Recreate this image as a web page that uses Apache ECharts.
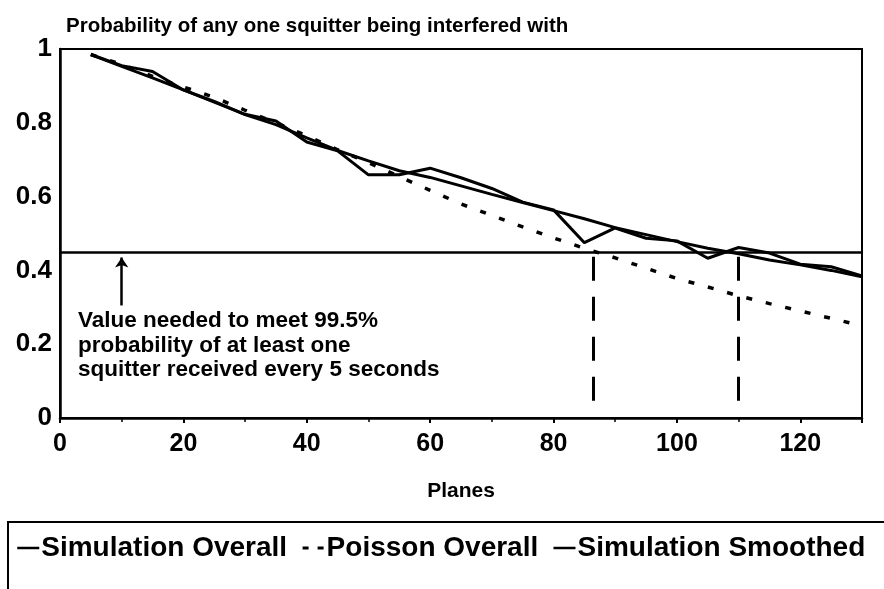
<!DOCTYPE html>
<html>
<head>
<meta charset="utf-8">
<title>Squitter interference probability</title>
<script src="https://cdn.jsdelivr.net/npm/echarts@6/dist/echarts.min.js"></script>
<style>
    html, body { margin: 0; padding: 0; background: #fff; }
    #chart { width: 884px; height: 589px; }
</style>
</head>
<body>
<div id="chart"></div>
<script>
// values
const planes = [5, 10, 15, 20, 25, 30, 35, 40, 45, 50, 55, 60, 65, 70, 75, 80, 85, 90, 95, 100, 105, 110, 115, 120, 125, 130];
const simOverall = [0.985, 0.955, 0.939, 0.889, 0.856, 0.823, 0.805, 0.748, 0.724, 0.659, 0.659, 0.677, 0.651, 0.622, 0.585, 0.564, 0.475, 0.515, 0.487, 0.48, 0.433, 0.462, 0.447, 0.417, 0.41, 0.385];
const poissonOverall = [0.985, 0.958, 0.926, 0.897, 0.869, 0.834, 0.8, 0.765, 0.727, 0.692, 0.654, 0.617, 0.58, 0.549, 0.518, 0.488, 0.46, 0.434, 0.406, 0.378, 0.355, 0.331, 0.31, 0.29, 0.27, 0.25];
const simSmoothed = [0.985, 0.953, 0.922, 0.889, 0.858, 0.822, 0.795, 0.759, 0.725, 0.697, 0.67, 0.652, 0.629, 0.606, 0.584, 0.562, 0.54, 0.516, 0.497, 0.478, 0.46, 0.445, 0.428, 0.415, 0.4, 0.383];
const threshold = 0.447;       // value needed for 99.5%
const crossPlanes = [86.5, 110]; // dashed drop lines
const arrowAt = [10, 0.305, 0.435];
const seriesNames = ['Simulation Overall', 'Poisson Overall', 'Simulation Smoothed'];

const font = 'Liberation Sans';
const chart = echarts.init(document.getElementById('chart'));

function pairs(ys) {
    return planes.map((p, i) => [p, ys[i]]);
}

const dropLines = crossPlanes.map((x) => [
    { coord: [x, threshold - 0.01], lineStyle: { color: '#000', width: 3, type: [24, 16] } },
    { coord: [x, 0.04] },
]);

const option = {
    animation: false,
    backgroundColor: '#fff',
    title: {
        text: 'Probability of any one squitter being interfered with',
        left: 61,
        top: 11,
        textStyle: { fontFamily: font, fontSize: 20.5, fontWeight: 'bold', color: '#000' },
    },
    grid: {
        left: 60,
        right: 22,
        top: 49,
        bottom: 171,
        show: true,
        borderColor: '#000',
        borderWidth: 2,
    },
    legend: {
        data: [
            { name: seriesNames[0], lineStyle: { width: 2.5, type: 'solid' } },
            { name: seriesNames[1], lineStyle: { width: 3, type: [6, 9] } },
            { name: seriesNames[2], lineStyle: { width: 2.5, type: 'solid' } },
        ],
        left: 8,
        top: 522,
        width: 1200,
        orient: 'horizontal',
        padding: [12, 60, 40, 8],
        itemGap: 14,
        itemWidth: 22,
        itemHeight: 10,
        borderColor: '#000',
        borderWidth: 2,
        itemStyle: { opacity: 0 },
        textStyle: { fontFamily: font, fontSize: 28, fontWeight: 'bold', color: '#000', padding: [0, 0, 0, -3] },
    },
    xAxis: {
        type: 'value',
        min: 0,
        max: 130,
        interval: 20,
        name: 'Planes',
        nameLocation: 'middle',
        nameGap: 63,
        nameTextStyle: { fontFamily: font, fontSize: 21, fontWeight: 'bold', color: '#000' },
        axisLine: { lineStyle: { color: '#000', width: 2.5 } },
        axisTick: { show: true, length: 5, lineStyle: { color: '#000', width: 2 } },
        minorTick: { show: true, splitNumber: 2, length: 4, lineStyle: { color: '#000', width: 1.5 } },
        splitLine: { show: false },
        axisLabel: { showMaxLabel: false, margin: 14, fontFamily: font, fontSize: 25, fontWeight: 'bold', color: '#000' },
    },
    yAxis: {
        type: 'value',
        min: 0,
        max: 1,
        interval: 0.2,
        axisLine: { show: true, lineStyle: { color: '#000', width: 2.5 } },
        axisTick: { show: false },
        splitLine: { show: false },
        axisLabel: { margin: 8, fontFamily: font, fontSize: 26, fontWeight: 'bold', color: '#000' },
    },
    graphic: [
        {
            type: 'text',
            left: 78,
            top: 309,
            style: {
                text: 'Value needed to meet 99.5%\nprobability of at least one\nsquitter received every 5 seconds',
                font: 'bold 22.5px "Liberation Sans"',
                lineHeight: 24.5,
                fill: '#000',
            },
        },
    ],
    series: [
        {
            name: seriesNames[0],
            type: 'line',
            data: pairs(simOverall),
            symbol: 'none',
            lineStyle: { color: '#000', width: 3 },
            itemStyle: { color: '#000' },
        },
        {
            name: seriesNames[1],
            type: 'line',
            data: pairs(poissonOverall),
            symbol: 'none',
            lineStyle: { color: '#000', width: 3.5, type: [6, 14] },
            itemStyle: { color: '#000' },
        },
        {
            name: seriesNames[2],
            type: 'line',
            data: pairs(simSmoothed),
            symbol: 'none',
            lineStyle: { color: '#000', width: 3 },
            itemStyle: { color: '#000' },
            markLine: {
                silent: true,
                symbol: 'none',
                label: { show: false },
                data: [
                    { yAxis: threshold, lineStyle: { color: '#000', width: 2.5, type: 'solid' } },
                    ...dropLines,
                    [
                        { coord: [arrowAt[0], arrowAt[1]], symbol: 'none', lineStyle: { color: '#000', width: 2.5, type: 'solid' } },
                        { coord: [arrowAt[0], arrowAt[2]], symbol: 'arrow', symbolSize: 10 },
                    ],
                ],
            },
        },
    ],
};

chart.setOption(option);
</script>
</body>
</html>
